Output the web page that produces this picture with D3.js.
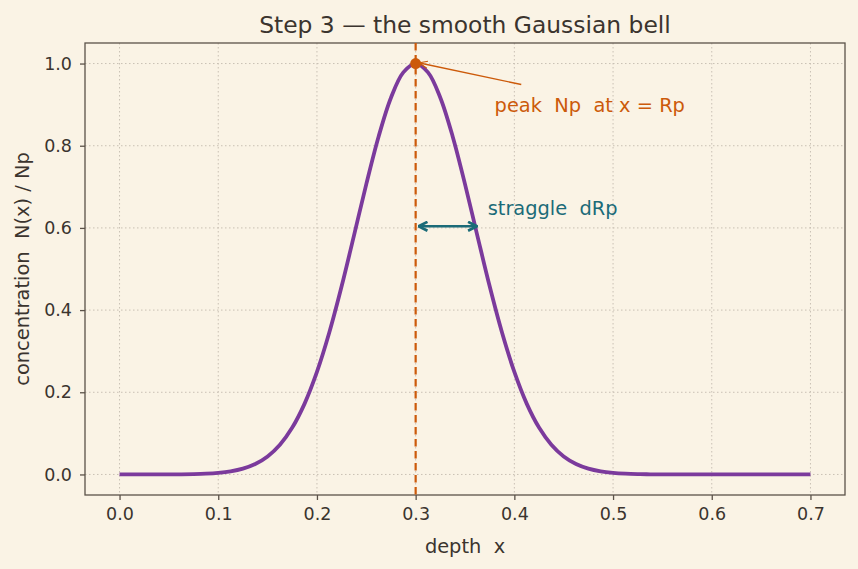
<!DOCTYPE html>
<html>
<head>
<meta charset="utf-8">
<script src="https://cdn.jsdelivr.net/npm/d3@7"></script>
<style>
  body { margin: 0; background: #faf3e5; }
  svg { display: block; font-family: "DejaVu Sans", sans-serif; }
</style>
</head>
<body>
<svg id="chart" width="858" height="569"></svg>
<script>
// depth samples and normalised concentration
var depth = [0, 0.0125, 0.025, 0.0375, 0.05, 0.0625, 0.075, 0.0875, 0.1, 0.1125,
  0.125, 0.1375, 0.15, 0.1625, 0.175, 0.1875, 0.2, 0.2125, 0.225, 0.2375,
  0.25, 0.2625, 0.275, 0.2875, 0.3, 0.3125, 0.325, 0.3375, 0.35, 0.3625,
  0.375, 0.3875, 0.4, 0.4125, 0.425, 0.4375, 0.45, 0.4625, 0.475, 0.4875,
  0.5, 0.5125, 0.525, 0.5375, 0.55, 0.5625, 0.575, 0.5875, 0.6, 0.6125,
  0.625, 0.6375, 0.65, 0.6625, 0.675, 0.6875, 0.7];
var conc = [0, 0, 0, 0.0001, 0.0002, 0.0004, 0.0009, 0.0019, 0.0039, 0.0076,
  0.0142, 0.0255, 0.0439, 0.0724, 0.1141, 0.1724, 0.2494, 0.3453, 0.4578, 0.5813,
  0.7066, 0.8226, 0.9169, 0.9785, 1.0, 0.9785, 0.9169, 0.8226, 0.7066, 0.5813,
  0.4578, 0.3453, 0.2494, 0.1724, 0.1141, 0.0724, 0.0439, 0.0255, 0.0142, 0.0076,
  0.0039, 0.0019, 0.0009, 0.0004, 0.0002, 0.0001, 0, 0, 0, 0,
  0, 0, 0, 0, 0, 0, 0];
var xTicks = [0, 0.1, 0.2, 0.3, 0.4, 0.5, 0.6, 0.7];
var yTicks = [0, 0.2, 0.4, 0.6, 0.8, 1.0];
var peakX = 0.3, peakY = 1.0, straggle = 0.06;

var svg = d3.select("#chart"),
  margin = {left: 85, right: 13, top: 43, bottom: 74},
  width = 858 - margin.left - margin.right,
  height = 569 - margin.top - margin.bottom;

var ink = "#3b342e", frame = "#5b5249",
  purple = "#7b3a9c", orange = "#cc5a0a", teal = "#1b6b78";

var x = d3.scaleLinear().domain([-0.035, 0.735]).range([0, width]);
var y = d3.scaleLinear().domain([-0.05, 1.05]).range([height, 0]);

var defs = svg.append("defs");
defs.append("marker")
  .attr("id", "headOrange")
  .attr("viewBox", "0 -5 10 10")
  .attr("refX", 9).attr("refY", 0)
  .attr("markerWidth", 9).attr("markerHeight", 9)
  .attr("markerUnits", "userSpaceOnUse")
  .attr("orient", "auto")
  .append("path")
    .attr("d", "M0,-4L10,0L0,4")
    .attr("fill", "none").attr("stroke", orange).attr("stroke-width", 1.3);
["start", "end"].forEach(function(k) {
  defs.append("marker")
    .attr("id", "headTeal-" + k)
    .attr("viewBox", "0 -5 10 10")
    .attr("refX", 9).attr("refY", 0)
    .attr("markerWidth", 11).attr("markerHeight", 11)
    .attr("markerUnits", "userSpaceOnUse")
    .attr("orient", k == "start" ? "auto-start-reverse" : "auto")
    .append("path")
      .attr("d", "M1,-4L9,0L1,4")
      .attr("fill", "none").attr("stroke", teal).attr("stroke-width", 2.5)
      .attr("stroke-linejoin", "miter");
});

var g = svg.append("g")
  .attr("transform", "translate(" + margin.left + "," + margin.top + ")");

// Grid
g.append("g").selectAll("line")
  .data(xTicks).enter().append("line")
    .attr("x1", function(d) { return x(d); })
    .attr("x2", function(d) { return x(d); })
    .attr("y1", 0).attr("y2", height)
    .attr("stroke", "#c9c0b4").attr("stroke-width", 1)
    .attr("stroke-dasharray", "1.5,2.5");
g.append("g").selectAll("line")
  .data(yTicks).enter().append("line")
    .attr("y1", function(d) { return y(d); })
    .attr("y2", function(d) { return y(d); })
    .attr("x1", 0).attr("x2", width)
    .attr("stroke", "#c9c0b4").attr("stroke-width", 1)
    .attr("stroke-dasharray", "1.5,2.5");

// Axes
var xAxis = g.append("g")
  .attr("transform", "translate(0," + height + ")")
  .call(d3.axisBottom(x).tickValues(xTicks).tickFormat(d3.format(".1f"))
    .tickSizeInner(5).tickSizeOuter(0).tickPadding(8));
var yAxis = g.append("g")
  .call(d3.axisLeft(y).tickValues(yTicks).tickFormat(d3.format(".1f"))
    .tickSizeInner(5).tickSizeOuter(0).tickPadding(8));
[xAxis, yAxis].forEach(function(a) {
  a.attr("font-size", null).attr("font-family", null);
  a.select(".domain").remove();
  a.selectAll(".tick line").attr("stroke", frame).attr("stroke-width", 1.3);
  a.selectAll(".tick text")
    .attr("fill", ink)
    .style("font-size", "17.5px")
    .style("font-family", "DejaVu Sans");
});

// Frame
g.append("rect")
  .attr("width", width).attr("height", height)
  .attr("fill", "none").attr("stroke", frame).attr("stroke-width", 1.3);

// Curve
var line = d3.line()
  .x(function(d, i) { return x(depth[i]); })
  .y(function(d) { return y(d); })
  .curve(d3.curveCatmullRom);
g.append("path")
  .datum(conc)
  .attr("d", line)
  .attr("fill", "none")
  .attr("stroke", purple)
  .attr("stroke-width", 3.8)
  .attr("stroke-linejoin", "round");

// Peak position line
g.append("line")
  .attr("x1", x(peakX)).attr("x2", x(peakX))
  .attr("y1", 0).attr("y2", height)
  .attr("stroke", orange).attr("stroke-width", 2.2)
  .attr("stroke-dasharray", "7.5,4.5");

// Peak marker and annotation
g.append("circle")
  .attr("cx", x(peakX)).attr("cy", y(peakY))
  .attr("r", 5.5).attr("fill", orange);
g.append("line")
  .attr("x1", x(0.407)).attr("y1", y(0.949))
  .attr("x2", x(peakX) + 4).attr("y2", y(peakY) - 0.5)
  .attr("stroke", orange).attr("stroke-width", 1.4)
  .attr("marker-end", "url(#headOrange)");
g.append("text")
  .attr("x", x(0.38)).attr("y", y(0.9) + 7)
  .attr("fill", orange).attr("font-size", 19.4)
  .attr("xml:space", "preserve")
  .text("peak  Np  at x = Rp");

// Straggle arrow
g.append("line")
  .attr("x1", x(peakX) + 3).attr("x2", x(peakX + straggle) + 2)
  .attr("y1", y(0.604)).attr("y2", y(0.604))
  .attr("stroke", teal).attr("stroke-width", 2.5)
  .attr("marker-start", "url(#headTeal-start)")
  .attr("marker-end", "url(#headTeal-end)");
g.append("text")
  .attr("x", x(0.373)).attr("y", y(0.648) + 7)
  .attr("fill", teal).attr("font-size", 19.4)
  .attr("xml:space", "preserve")
  .text("straggle  dRp");

// Title and labels
svg.append("text")
  .attr("x", margin.left + width / 2).attr("y", 33)
  .attr("text-anchor", "middle")
  .attr("fill", ink).attr("font-size", 23.4)
  .text("Step 3 \u2014 the smooth Gaussian bell");
svg.append("text")
  .attr("x", margin.left + width / 2).attr("y", 553)
  .attr("text-anchor", "middle")
  .attr("fill", ink).attr("font-size", 19.4)
  .attr("xml:space", "preserve")
  .text("depth  x");
svg.append("text")
  .attr("transform", "translate(29," + (margin.top + height / 2) + ") rotate(-90)")
  .attr("text-anchor", "middle")
  .attr("fill", ink).attr("font-size", 19.4)
  .attr("xml:space", "preserve")
  .text("concentration  N(x) / Np");
</script>
</body>
</html>
